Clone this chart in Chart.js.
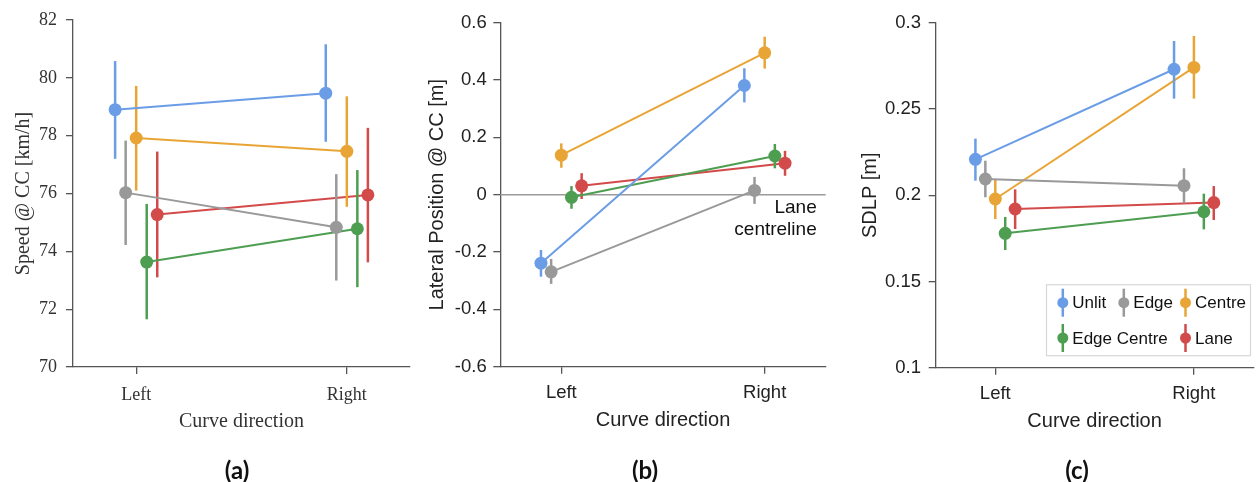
<!DOCTYPE html>
<html>
<head>
<meta charset="utf-8">
<title>Curve direction</title>
<script src="https://cdn.jsdelivr.net/npm/chart.js@4"></script>
<style>
  body { margin: 0; background: #fff; }
  #wrap { position: relative; width: 1260px; height: 482px; overflow: hidden; }
  .panel { position: absolute; top: 0; width: 420px; height: 482px; }
  .caption { position: absolute; top: 458px; width: 100px; text-align: center;
             font: bold 24px Lato, sans-serif; line-height: 24px; color: #111; }
</style>
</head>
<body>
<div id="wrap">
  <div class="panel" style="left:0"><canvas id="speedChart" width="420" height="482"></canvas></div>
  <div class="panel" style="left:420px"><canvas id="lateralChart" width="420" height="482"></canvas></div>
  <div class="panel" style="left:840px"><canvas id="sdlpChart" width="420" height="482"></canvas></div>
  <div class="caption" style="left:187px">(a)</div>
  <div class="caption" style="left:595px">(b)</div>
  <div class="caption" style="left:1027px">(c)</div>
</div>
<script>
// Categories and series
const categories = ["Left", "Right"];
const seriesNames = ["Unlit", "Edge", "Centre", "Edge Centre", "Lane"];
const seriesColors = ["#6a9de6", "#999999", "#e8a535", "#4e9e52", "#d34a4a"];

// (a) Speed @ CC [km/h] - one [Left, Right] pair per series
const speedMean = [[78.90, 79.47], [76.03, 74.83], [77.92, 77.46], [73.63, 74.78], [75.27, 75.95]];
const speedLow  = [[77.20, 77.79], [74.22, 72.99], [76.10, 75.54], [71.65, 72.76], [73.10, 73.62]];
const speedHigh = [[80.58, 81.16], [77.83, 76.67], [79.72, 79.36], [75.64, 76.81], [77.45, 78.27]];
const speedTicks = [70, 72, 74, 76, 78, 80, 82];

// (b) Lateral Position @ CC [m]
const latMean = [[-0.239, 0.381], [-0.269, 0.015], [0.138, 0.495], [-0.009, 0.135], [0.031, 0.110]];
const latLow  = [[-0.286, 0.322], [-0.311, -0.032], [0.094, 0.440], [-0.049, 0.092], [-0.015, 0.066]];
const latHigh = [[-0.193, 0.441], [-0.224, 0.062], [0.179, 0.551], [0.030, 0.177], [0.075, 0.153]];
const latTicks = [-0.6, -0.4, -0.2, 0, 0.2, 0.4, 0.6];

// (c) SDLP [m]
const sdlpMean = [[0.2208, 0.2730], [0.2094, 0.2055], [0.1978, 0.2741], [0.1779, 0.1904], [0.1920, 0.1957]];
const sdlpLow  = [[0.2084, 0.2560], [0.1988, 0.1953], [0.1862, 0.2560], [0.1682, 0.1802], [0.1804, 0.1856]];
const sdlpHigh = [[0.2328, 0.2894], [0.2200, 0.2156], [0.2092, 0.2923], [0.1874, 0.2009], [0.2034, 0.2053]];
const sdlpTicks = [0.1, 0.15, 0.2, 0.25, 0.3];

const dodge = 0.05;
const axisColor = "#555";

// draws each series' error bars just before that series
const errorBars = {
  id: "errorBars",
  beforeDatasetDraw(chart, args) {
    const ds = chart.data.datasets[args.index];
    const xs = chart.scales.x, ys = chart.scales.y;
    const ctx = chart.ctx;
    ctx.save();
    ctx.strokeStyle = ds.borderColor;
    ctx.lineWidth = 2.5;
    ds.data.forEach((p, i) => {
      const px = xs.getPixelForValue(p.x);
      ctx.beginPath();
      ctx.moveTo(px, ys.getPixelForValue(ds.errLow[i]));
      ctx.lineTo(px, ys.getPixelForValue(ds.errHigh[i]));
      ctx.stroke();
    });
    ctx.restore();
  }
};

// zero line + label for panel (b)
const centreline = {
  id: "centreline",
  beforeDatasetsDraw(chart) {
    const {ctx, chartArea} = chart;
    const y0 = chart.scales.y.getPixelForValue(0);
    ctx.save();
    ctx.strokeStyle = "#9a9a9a";
    ctx.lineWidth = 1.5;
    ctx.beginPath();
    ctx.moveTo(chartArea.left, y0);
    ctx.lineTo(chartArea.right, y0);
    ctx.stroke();
    ctx.restore();
  },
  afterDraw(chart) {
    const {ctx, chartArea} = chart;
    const y0 = chart.scales.y.getPixelForValue(0);
    ctx.save();
    ctx.font = "19px 'Liberation Sans', Arial, sans-serif";
    ctx.fillStyle = "#111";
    ctx.textAlign = "right";
    ctx.textBaseline = "middle";
    ctx.fillText("Lane", chartArea.right - 9, y0 + 13);
    ctx.fillText("centreline", chartArea.right - 9, y0 + 35.5);
    ctx.restore();
  }
};

// legend box with error-bar markers for panel (c)
const errLegend = {
  id: "errLegend",
  afterDraw(chart) {
    const {ctx, chartArea} = chart;
    const w = 204, h = 71;
    const left = chartArea.right - 3 - w;
    const top = chartArea.bottom - 12 - h;
    const cols = [16.3, 77.3, 139];
    const rows = [18, 53.3];
    const slots = [[0, 0], [1, 0], [2, 0], [0, 1], [2, 1]];
    ctx.save();
    ctx.fillStyle = "#fff";
    ctx.strokeStyle = "#d8d8d8";
    ctx.lineWidth = 1.2;
    ctx.fillRect(left, top, w, h);
    ctx.strokeRect(left, top, w, h);
    ctx.font = "17px 'Liberation Sans', Arial, sans-serif";
    ctx.textBaseline = "middle";
    ctx.textAlign = "left";
    seriesNames.forEach((name, s) => {
      const mx = left + cols[slots[s][0]];
      const my = top + rows[slots[s][1]];
      ctx.strokeStyle = seriesColors[s];
      ctx.lineWidth = 2.5;
      ctx.beginPath();
      ctx.moveTo(mx, my - 14);
      ctx.lineTo(mx, my + 14);
      ctx.stroke();
      ctx.fillStyle = seriesColors[s];
      ctx.beginPath();
      ctx.arc(mx, my, 5.5, 0, Math.PI * 2);
      ctx.fill();
      ctx.fillStyle = "#111";
      ctx.fillText(name, mx + 9.5, my + 1);
    });
    ctx.restore();
  }
};

function makeChart(id, o) {
  const datasets = seriesNames.map((name, s) => ({
    label: name,
    data: categories.map((c, i) => ({ x: i + (s - 2) * dodge, y: o.mean[s][i] })),
    errLow: o.low[s],
    errHigh: o.high[s],
    showLine: true,
    borderColor: seriesColors[s],
    backgroundColor: seriesColors[s],
    pointBackgroundColor: seriesColors[s],
    pointBorderWidth: 0,
    borderWidth: 2,
    pointRadius: 6.5,
    pointHoverRadius: 6.5
  }));

  const tickFont = { family: o.family, size: o.tickSize };
  const titleFont = { family: o.family, size: 20 };

  return new Chart(document.getElementById(id), {
    type: "scatter",
    data: { datasets },
    options: {
      responsive: false,
      animation: false,
      events: [],
      layout: { padding: o.padding },
      plugins: { legend: { display: false }, tooltip: { enabled: false } },
      scales: {
        x: {
          type: "linear",
          min: -0.3,
          max: 1.3,
          afterBuildTicks: scale => { scale.ticks = categories.map((c, i) => ({ value: i })); },
          afterFit: scale => { scale.height = o.xHeight; },
          border: { color: axisColor, width: 1.3 },
          grid: { drawOnChartArea: false, tickLength: 7, color: axisColor, lineWidth: 1.3 },
          ticks: {
            font: tickFont,
            color: o.textColor,
            padding: o.xTickPad,
            maxRotation: 0,
            callback: v => categories[v]
          },
          title: { display: true, text: "Curve direction", font: titleFont, color: o.textColor, padding: 0 }
        },
        y: {
          min: o.ticks[0],
          max: o.ticks[o.ticks.length - 1],
          afterBuildTicks: scale => { scale.ticks = o.ticks.map(v => ({ value: v })); },
          afterFit: scale => { scale.width = o.yWidth; },
          border: { color: axisColor, width: 1.3 },
          grid: { drawOnChartArea: false, tickLength: 7, color: axisColor, lineWidth: 1.3 },
          ticks: {
            font: tickFont,
            color: o.textColor,
            padding: o.yTickPad,
            callback: v => String(parseFloat(v.toFixed(4)))
          },
          title: { display: true, text: o.yTitle, font: titleFont, color: o.textColor, padding: 0 }
        }
      }
    },
    plugins: [errorBars].concat(o.extra || [])
  });
}

makeChart("speedChart", {
  mean: speedMean, low: speedLow, high: speedHigh, ticks: speedTicks,
  yTitle: "Speed @ CC [km/h]",
  family: "'Liberation Serif', 'Times New Roman', serif",
  tickSize: 18, textColor: "#333",
  padding: { left: 12, right: 10, top: 20, bottom: 48.3 },
  yWidth: 61, xHeight: 66.7, xTickPad: 10, yTickPad: 9
});

makeChart("lateralChart", {
  mean: latMean, low: latLow, high: latHigh, ticks: latTicks,
  yTitle: "Lateral Position @ CC [m]",
  family: "'Liberation Sans', Arial, sans-serif",
  tickSize: 18.5, textColor: "#222",
  padding: { left: 5.3, right: 14.3, top: 22.7, bottom: 49.3 },
  yWidth: 75, xHeight: 66, xTickPad: 8, yTickPad: 6.6,
  extra: [centreline]
});

makeChart("sdlpChart", {
  mean: sdlpMean, low: sdlpLow, high: sdlpHigh, ticks: sdlpTicks,
  yTitle: "SDLP [m]",
  family: "'Liberation Sans', Arial, sans-serif",
  tickSize: 18.5, textColor: "#222",
  padding: { left: 18, right: 5.7, top: 22.7, bottom: 49 },
  yWidth: 77.7, xHeight: 65.3, xTickPad: 8, yTickPad: 7.7,
  extra: [errLegend]
});
</script>
</body>
</html>
